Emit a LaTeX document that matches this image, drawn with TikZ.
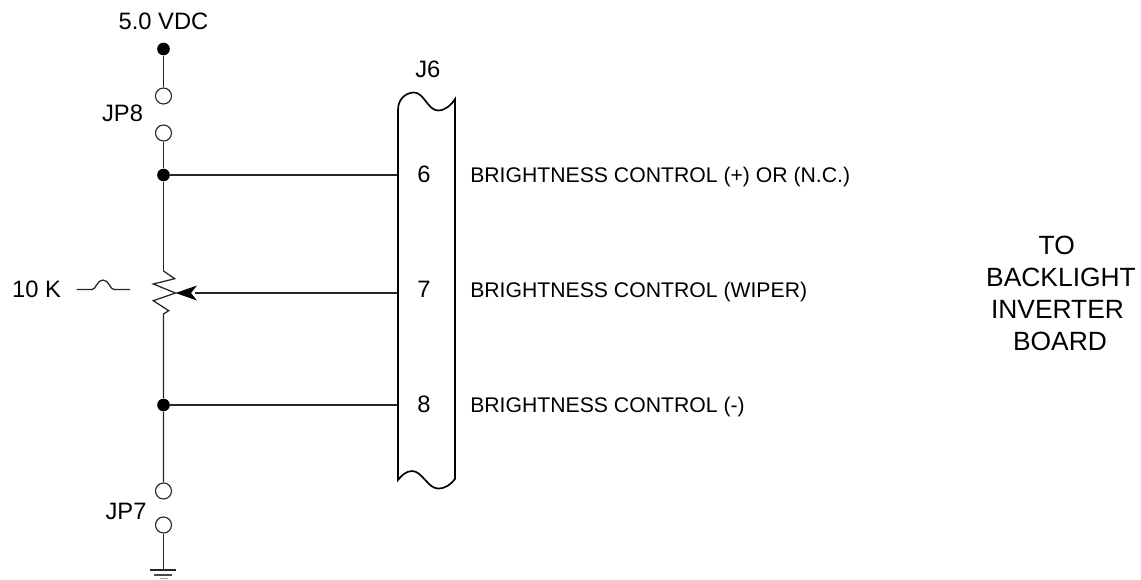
\documentclass[tikz,border=0pt]{standalone}
\usepackage{fontspec}
\setmainfont{Liberation Sans}
\usetikzlibrary{arrows.meta}
\tikzset{
  wire/.style={draw=black!85,line width=0.95pt,line join=miter},
  boxline/.style={draw=black,line width=1.25pt,line join=miter},
  dot/.style={circle,fill=black,inner sep=0pt,minimum size=9.5pt},
  opencirc/.style={circle,draw=black!85,fill=white,line width=0.85pt,inner sep=0pt,minimum size=12pt},
  lab/.style={font=\fontsize{17.8pt}{20pt}\selectfont,inner sep=0pt},
  biglab/.style={font=\fontsize{19.8pt}{22pt}\selectfont,inner sep=0pt},
  sig/.style={font=\fontsize{15.9pt}{18pt}\selectfont,anchor=west,inner sep=0pt},
  pin/.style={font=\fontsize{17.8pt}{20pt}\selectfont,inner sep=0pt}
}
\begin{document}
\begin{tikzpicture}[x=0.75pt,y=-0.75pt]
\useasboundingbox (0,0) rectangle (1141,579);
\node[dot] (top) at (163.5,49) {};
\node[opencirc] (a8) at (163.5,96) {};
\node[opencirc] (b8) at (163.5,133) {};
\node[dot] (d6) at (163.5,175) {};
\node[dot] (d8) at (163.5,405) {};
\node[opencirc] (a7) at (163.5,491) {};
\node[opencirc] (b7) at (163.5,525) {};
\coordinate (potT) at (163.5,271);
\coordinate (potB) at (163.5,314);
\coordinate (wip) at (175.5,293);
\coordinate (gnd) at (163.5,570);
\coordinate (c6) at (398,175);
\coordinate (c7) at (398,293);
\coordinate (c8) at (398,405);
\draw[wire] (top) -- (a8);
\draw[wire] (b8) -- (d6) -- (potT);
\draw[wire] (potT) -- (174.7,278.7) -- (153.3,284) -- (wip) -- (153.3,300.7) -- (168.7,310.7) -- (potB) -- (d8) -- (a7);
\draw[wire] (b7) -- (gnd);
\draw[wire] (d6) -- (c6);
\draw[wire] (d8) -- (c8);
\draw[wire] (c7) -- (195,293);
\fill[black] (wip) -- (197,285.5) -- (191,293) -- (197,300.5) -- cycle;
\draw[draw=black!85,line width=1pt] (150,570) -- (176,570);
\draw[draw=black!70,line width=0.9pt] (154,575) -- (172,575);
\draw[draw=black!35,line width=0.9pt] (159.5,578.6) -- (167.5,578.6);
\draw[wire] (76.5,289.5) -- (92,289.5) .. controls (96,289.5) and (97,280) .. (103,280) .. controls (109,280) and (110,289.5) .. (114,289.5) -- (130,289.5);
\draw[boxline] (398,110) .. controls (398,97) and (408,92.5) .. (414,92.5) .. controls (424,92.5) and (428,110.5) .. (438,110.5) .. controls (446,110.5) and (452,104) .. (455,99) -- (455,479)
  .. controls (451,484) and (446,488.5) .. (438,488.5) .. controls (428,488.5) and (422,471) .. (412,471) .. controls (406,471) and (401,476) .. (398,480) -- cycle;
\node[lab] (v5) at (163.5,21) {5.0 VDC};
\node[lab] (jp8) at (122.5,113) {JP8};
\node[lab] (jp7) at (126,511.5) {JP7};
\node[lab] (tenk) at (36.5,289) {10 K};
\node[lab] (j6) at (427.8,69.5) {J6};
\node[pin] (p6) at (424,174) {6};
\node[pin] (p7) at (424,289) {7};
\node[pin] (p8) at (424,404) {8};
\node[sig] (s6) at (470,177.5) {BRIGHTNESS CONTROL (+) OR (N.C.)};
\node[sig] (s7) at (470,292) {BRIGHTNESS CONTROL (WIPER)};
\node[sig] (s8) at (470,407) {BRIGHTNESS CONTROL (-)};
\node[biglab] (t1) at (1056.7,245) {TO};
\node[biglab] (t2) at (1061,277) {BACKLIGHT};
\node[biglab] (t3) at (1057.5,309) {INVERTER};
\node[biglab] (t4) at (1060,341.7) {BOARD};
\end{tikzpicture}
\end{document}
